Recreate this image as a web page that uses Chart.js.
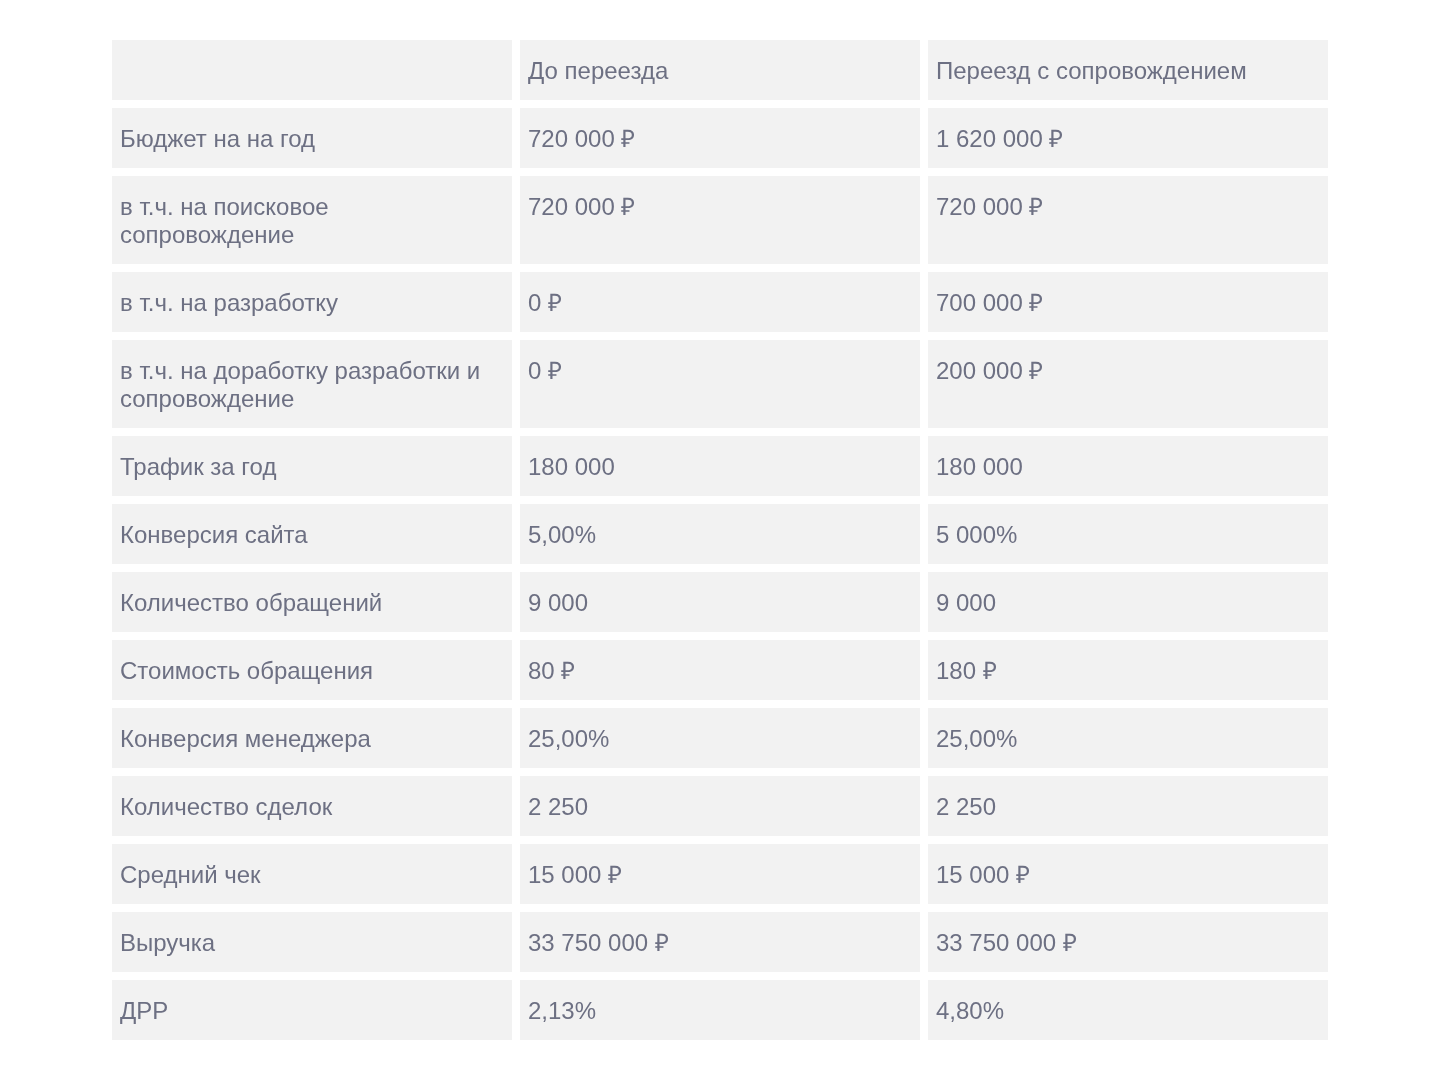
<!DOCTYPE html>
<html>
<head>
<meta charset="utf-8">
<script src="https://cdn.jsdelivr.net/npm/chart.js@4.4.1/dist/chart.umd.min.js"></script>
<style>
  html, body { margin:0; padding:0; background:#fff; }
  #wrap { width:1440px; height:1079px; }
</style>
</head>
<body>
<div id="wrap"><canvas id="tbl"></canvas></div>
<script>
// table data
const columns = ['', 'До переезда', 'Переезд с сопровождением'];
const rowLabels = [
  'Бюджет на на год',
  ['в т.ч. на поисковое', 'сопровождение'],
  'в т.ч. на разработку',
  ['в т.ч. на доработку разработки и', 'сопровождение'],
  'Трафик за год',
  'Конверсия сайта',
  'Количество обращений',
  'Стоимость обращения',
  'Конверсия менеджера',
  'Количество сделок',
  'Средний чек',
  'Выручка',
  'ДРР'
];
const beforeMove = ['720 000 ₽', '720 000 ₽', '0 ₽', '0 ₽', '180 000', '5,00%', '9 000', '80 ₽', '25,00%', '2 250', '15 000 ₽', '33 750 000 ₽', '2,13%'];
const afterMove = ['1 620 000 ₽', '720 000 ₽', '700 000 ₽', '200 000 ₽', '180 000', '5 000%', '9 000', '180 ₽', '25,00%', '2 250', '15 000 ₽', '33 750 000 ₽', '4,80%'];

// build rows: header + body, each row height from its number of text lines
const rows = [columns].concat(rowLabels.map((l, i) => [l, beforeMove[i], afterMove[i]]));
const GAP = 8, LINE = 28;
const nLines = r => Math.max(...r.map(c => Array.isArray(c) ? c.length : 1));
let cursor = 0;
const spans = rows.map(r => {
  const top = cursor + GAP / 2;
  const h = 32 + LINE * nLines(r);
  cursor += h + GAP;
  return [top, top + h];
});
const total = cursor;

const datasets = rows.map((r, i) => ({
  data: [spans[i], spans[i], spans[i]],
  cells: r,
  backgroundColor: '#f2f2f2',
  borderWidth: 0,
  borderSkipped: false,
  grouped: false,
  barPercentage: 1,
  categoryPercentage: 400 / 408
}));

const cellText = {
  id: 'cellText',
  afterDatasetsDraw(chart) {
    const ctx = chart.ctx;
    const y = chart.scales.y;
    ctx.save();
    ctx.font = '24px "Liberation Sans", Arial, sans-serif';
    ctx.fillStyle = '#6d7083';
    ctx.textBaseline = 'alphabetic';
    ctx.textAlign = 'left';
    chart.data.datasets.forEach((ds, i) => {
      const meta = chart.getDatasetMeta(i);
      meta.data.forEach((bar, j) => {
        const left = bar.x - bar.width / 2 + 8;
        const top = y.getPixelForValue(ds.data[j][0]);
        const txt = ds.cells[j];
        const lines = Array.isArray(txt) ? txt : [txt];
        lines.forEach((ln, k) => ctx.fillText(ln, left, top + 39 + k * LINE));
      });
    });
    ctx.restore();
  }
};

new Chart(document.getElementById('tbl').getContext('2d'), {
  type: 'bar',
  data: { labels: [0, 1, 2], datasets },
  options: {
    responsive: true,
    maintainAspectRatio: false,
    animation: false,
    layout: { padding: { left: 108, right: 108, top: 36, bottom: 35 } },
    plugins: { legend: { display: false }, tooltip: { enabled: false } },
    scales: {
      x: { display: false },
      y: { display: false, reverse: true, min: 0, max: total }
    }
  },
  plugins: [cellText]
});
</script>
</body>
</html>
